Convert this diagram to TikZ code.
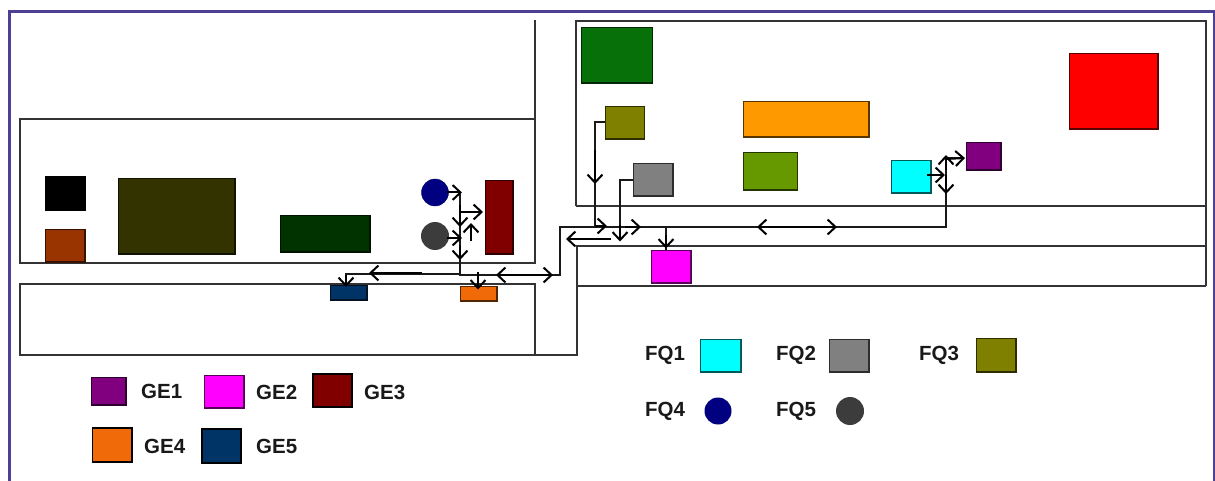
\documentclass[tikz,border=0pt]{standalone}
\usepackage{fontspec}
\setmainfont{Liberation Sans}
\usetikzlibrary{arrows.meta}
\definecolor{frameblue}{HTML}{4B4093}
\definecolor{wallc}{HTML}{333333}
\tikzset{
  x=1pt,y=-1pt,
  wall/.style={draw=wallc,line width=1.7pt},
  flow/.style={draw=black!90,line width=1.8pt},
  tip/.style={draw=black,line width=2pt,-{Straight Barb[length=8pt,width=15pt,line width=2pt]}},
  tips/.style={draw=black,line width=2pt,{Straight Barb[length=8pt,width=15pt,line width=2pt]}-{Straight Barb[length=8pt,width=15pt,line width=2pt]}},
  box/.style={draw=#1!35!black,line width=1.3pt,fill=#1},
  shadowbox/.style={draw=black,line width=1.6pt,fill=#1},
  lab/.style={font=\fontsize{20.5}{24}\selectfont\bfseries,text=black!90,inner sep=0pt,anchor=west},
}
\definecolor{cgreen}{HTML}{087008}
\definecolor{colive}{HTML}{808000}
\definecolor{cgray}{HTML}{808080}
\definecolor{corange}{HTML}{FF9900}
\definecolor{clime}{HTML}{669900}
\definecolor{ccyan}{HTML}{00FFFF}
\definecolor{cpurple}{HTML}{800080}
\definecolor{cred}{HTML}{FF0000}
\definecolor{cmag}{HTML}{FF00FF}
\definecolor{cmaroon}{HTML}{800000}
\definecolor{corg}{HTML}{F06A0A}
\definecolor{cnavy}{HTML}{003366}
\definecolor{cdnavy}{HTML}{000080}
\definecolor{cdark}{HTML}{3C3C3C}
\definecolor{cbrown}{HTML}{993300}
\definecolor{cdolive}{HTML}{333300}
\definecolor{cdgreen}{HTML}{003300}
\newcommand{\bx}[5]{\path[box=#5] ([shift={(0.6,0.6)}]#1,#2) rectangle (#3,#4);}
\newcommand{\sbx}[5]{\path[shadowbox=#5] (#1,#2) rectangle (#3,#4);\draw[black,line width=2.4pt] (#3,#2) -- (#3,#4) -- (#1,#4);}
\begin{document}
\begin{tikzpicture}
\useasboundingbox (0,0) rectangle (1215,481);
\fill[white] (0,0) rectangle (1215,481);
% frame
\draw[frameblue,line width=2.6pt] (9.5,481) -- (9.5,11.5) -- (1214,11.5) -- (1214,481);
% walls
\draw[wall] (535,20) -- (535,263) -- (20,263) -- (20,119) -- (535,119);
\draw[wall] (535,355) -- (535,284) -- (20,284) -- (20,355) -- (577,355) -- (577,246) -- (1206,246);
\draw[wall] (577,286) -- (1206,286);
\draw[wall] (576,206) -- (576,21) -- (1206,21) -- (1206,286);
\draw[wall] (576,206) -- (1206,206);
% room boxes
\bx{581}{27}{652.5}{83}{cgreen}
\bx{605}{106}{644.5}{139}{colive}
\bx{633}{163}{673}{196}{cgray}
\bx{743}{101}{869}{137}{corange}
\bx{743}{152}{797.5}{190}{clime}
\bx{891}{160}{931}{193}{ccyan}
\bx{966}{142}{1001}{170}{cpurple}
\bx{1069}{53}{1158}{129}{cred}
\bx{651}{250}{691}{283}{cmag}
\bx{485}{180}{513}{254}{cmaroon}
\bx{460}{286}{497}{301}{corg}
\bx{330}{285}{367}{300}{cnavy}
\bx{45}{176}{85}{210}{black}
\bx{45}{229}{85}{262}{cbrown}
\bx{118}{178}{235}{254}{cdolive}
\bx{280}{215}{370}{252}{cdgreen}
\node[circle,minimum size=27pt,inner sep=0pt,fill=cdnavy,draw=cdnavy!80!black] (q4) at (435,192.5) {};
\node[circle,minimum size=28pt,inner sep=0pt,fill=cdark] (q5) at (435,236) {};
% conveyor
\draw[flow] (346,286) -- (346,274) -- (460,274) -- (460,275) -- (560,275) -- (560,227) -- (946,227) -- (946,158) -- (964,158);
\draw[flow] (460,275) -- (460,192);
\draw[flow] (605,122) -- (595,122) -- (595,227);
\draw[flow] (633,180) -- (620,180) -- (620,240);
\draw[flow] (666,227) -- (666,250);
% arrows
\draw[tip] (447,192.5) -- (462,192.5);
\draw[tip] (460,212) -- (483,212);
\draw[tip] (460,205) -- (460,227);
\draw[tip] (471,241) -- (471,223);
\draw[tip] (447,238) -- (462,238);
\draw[tip] (460,245) -- (460,260);
\draw[tip] (422,273) -- (369,273);
\draw[tip] (346,275) -- (346,287);
\draw[tip] (478,272) -- (478,289.5);
\draw[tips] (496,275) -- (553,275);
\draw[tip] (611,239) -- (566,239);
\draw[tip] (595,150) -- (595,184);
\draw[tip] (595,226) -- (607,226);
\draw[tip] (625,227) -- (641,227);
\draw[tip] (620,225) -- (620,241.5);
\draw[tip] (666,235) -- (666,248.5);
\draw[tips] (757,227) -- (837,227);
\draw[tip] (927,175) -- (945,175);
\draw[tip] (946,170) -- (946,155);
\draw[tip] (946,175) -- (946,194);
\draw[tip] (946,159) -- (965,158);
% legend
\bx{91}{377}{126}{405}{cpurple}
\bx{204}{375}{244}{408}{cmag}
\sbx{313}{374}{352}{407}{cmaroon}
\sbx{92.5}{428}{132}{462}{corg}
\sbx{202}{429}{241}{463}{cnavy}
\node[lab] (g1) at (141,391) {GE1};
\node[lab] (g2) at (256,392) {GE2};
\node[lab] (g3) at (364,392) {GE3};
\node[lab] (g4) at (144,446) {GE4};
\node[lab] (g5) at (256,446) {GE5};
\bx{700}{339}{741}{372}{ccyan}
\bx{829}{339}{869}{372}{cgray}
\bx{976}{338}{1016}{372}{colive}
\node[circle,minimum size=27pt,inner sep=0pt,fill=cdnavy] (l4) at (718,411) {};
\node[circle,minimum size=28pt,inner sep=0pt,fill=cdark] (l5) at (850,411) {};
\node[lab] (f1) at (645,355) {FQ1};
\node[lab] (f2) at (776,355) {FQ2};
\node[lab] (f3) at (919,355) {FQ3};
\node[lab] (f4) at (645,411) {FQ4};
\node[lab] (f5) at (776,411) {FQ5};
\end{tikzpicture}
\end{document}
